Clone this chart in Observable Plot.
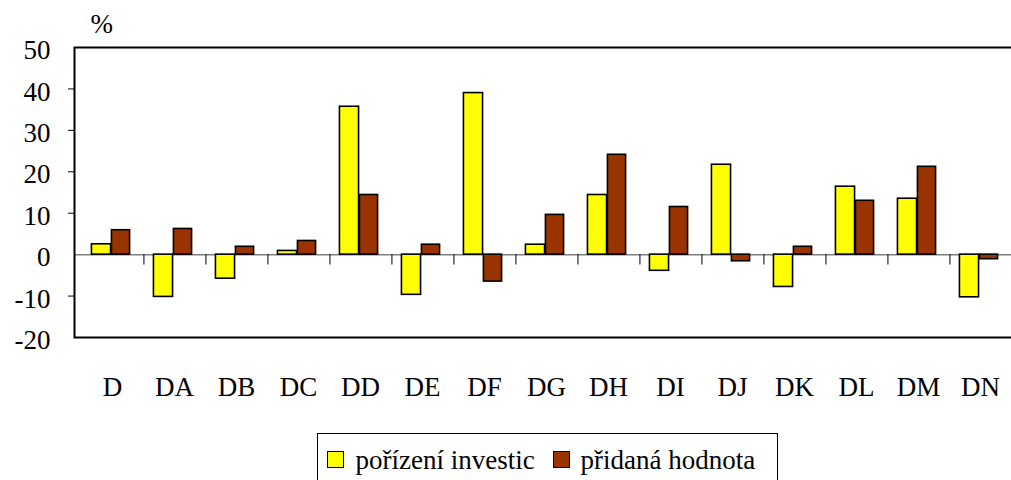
<!DOCTYPE html>
<html>
<head>
<meta charset="utf-8">
<script src="https://cdn.jsdelivr.net/npm/d3@7"></script>
<script src="https://cdn.jsdelivr.net/npm/@observablehq/plot@0.6"></script>
<style>
  html, body { margin: 0; padding: 0; background: white; }
  #wrap { position: relative; width: 1011px; height: 480px; overflow: hidden; font-family: 'Liberation Serif', 'Times New Roman', Times, 'DejaVu Serif', serif; }
  #wrap svg, #wrap svg text { font-family: 'Liberation Serif', 'Times New Roman', Times, 'DejaVu Serif', serif !important; }
  #legend { position: absolute; left: 317px; top: 433px; width: 459px; height: 60px; border: 1.5px solid black; background: white; }
  #legend .sw { position: absolute; top: 17px; width: 15px; height: 15px; border: 1.5px solid black; }
  #legend .tx { position: absolute; top: 13px; font-size: 27px; line-height: 27px; white-space: nowrap; color: black; }
</style>
</head>
<body>
<div id="wrap"></div>
<script>
const categories = ["D","DA","DB","DC","DD","DE","DF","DG","DH","DI","DJ","DK","DL","DM","DN"];
const investice = [2.5,-10.2,-5.8,0.9,35.7,-9.7,39.0,2.4,14.4,-3.9,21.7,-7.8,16.4,13.5,-10.3];
const hodnota   = [5.9,6.2,1.9,3.3,14.4,2.4,-6.5,9.6,24.1,11.5,-1.6,1.9,13.0,21.2,-1.1];
const seriesNames = ["pořízení investic","přidaná hodnota"];
const seriesColors = ["#ffff00","#993300"];
const yTickLabels = [50,40,30,20,10,0,-10,-20];
const yTickMarks = [40,30,20,10,-10];

const rows = categories.map((c, i) => ({cat: c, inv: investice[i], hod: hodnota[i]}));
const half = 943 / 15 / 2;
const serif = "'Liberation Serif', 'Times New Roman', Times, 'DejaVu Serif', serif";

const chart = Plot.plot({
  width: 1011,
  height: 433,
  marginLeft: 74,
  marginRight: -6,
  marginTop: 47,
  marginBottom: 96,
  style: {fontFamily: serif, fontSize: "27px", background: "white", color: "black", overflow: "visible"},
  x: {domain: categories, padding: 0},
  y: {domain: [-20, 50]},
  marks: [
    Plot.ruleY([0], {stroke: "#808080", strokeWidth: 1.5}),
    Plot.barY(rows, {x: "cat", y: "inv", fill: seriesColors[0], stroke: "black", strokeWidth: 1.6, insetLeft: half - 20, insetRight: half, dx: -1}),
    Plot.barY(rows, {x: "cat", y: "hod", fill: seriesColors[1], stroke: "black", strokeWidth: 1.6, insetLeft: half, insetRight: half - 19, dx: -1}),
    Plot.ruleX(categories.slice(0, -1), {x: d => d, y1: 0, y2: -2.5, dx: half, stroke: "black", strokeWidth: 1}),
    Plot.axisX({tickSize: 0, tickPadding: 39, label: null, fontFamily: serif}),
    Plot.axisY({ticks: yTickLabels, tickSize: 0, tickPadding: 24, dy: 3, label: null, tickFormat: d => String(d), fontFamily: serif}),
    Plot.axisY({ticks: yTickMarks, tickSize: 6, tickFormat: () => "", label: null, stroke: "black"}),
    Plot.text(["%"], {frameAnchor: "top-left", dx: 16, dy: -23, textAnchor: "start", lineAnchor: "middle", fontFamily: serif}),
    Plot.frame({stroke: "black", strokeWidth: 2})
  ]
});

const wrap = document.getElementById("wrap");
wrap.appendChild(chart);

const legend = document.createElement("div");
legend.id = "legend";
const swLeft = [8.5, 234.5];
const txLeft = [37.5, 262.5];
seriesNames.forEach((name, i) => {
  const sw = document.createElement("div");
  sw.className = "sw";
  sw.style.left = swLeft[i] + "px";
  sw.style.background = seriesColors[i];
  legend.appendChild(sw);
  const tx = document.createElement("div");
  tx.className = "tx";
  tx.style.left = txLeft[i] + "px";
  tx.textContent = name;
  legend.appendChild(tx);
});
wrap.appendChild(legend);
</script>
</body>
</html>
